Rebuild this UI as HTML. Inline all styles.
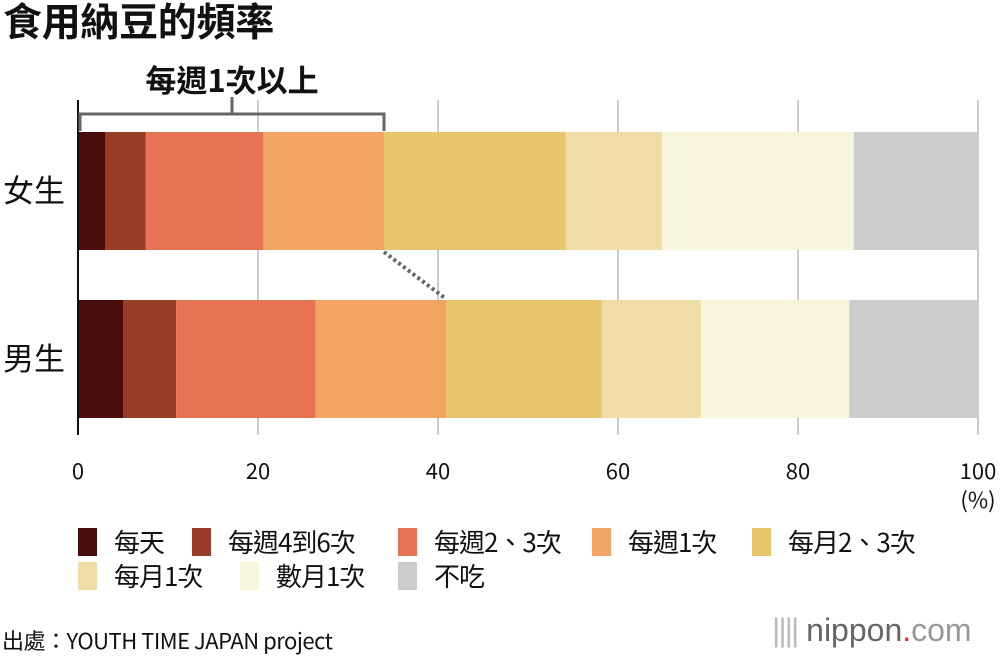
<!DOCTYPE html>
<html><head><meta charset="utf-8"><style>
body{margin:0;background:#fff;font-family:"Noto Sans CJK TC",sans-serif;}
#wrap{position:relative;width:1000px;height:660px;overflow:hidden;}
.t{position:absolute;white-space:nowrap;color:#111;}
</style></head><body>
<div id="wrap">
<div class="t" style="left:3px;top:-8px;font-size:39px;font-weight:bold;letter-spacing:-0.3px;">食用納豆的頻率</div>
<svg id="chart" width="1000" height="660" style="position:absolute;left:0;top:0;font-family:'Noto Sans CJK TC',sans-serif"></svg>
<div class="t" style="left:2px;top:624px;font-size:22px;letter-spacing:-0.5px;">出處：YOUTH TIME JAPAN project</div>
<div class="t" style="left:772px;top:612px;font-size:32px;color:#666;font-family:'Liberation Sans',sans-serif"><span style="color:#bbb;letter-spacing:-2px">||||</span> nippon<span style="color:#e0242a">.</span><span style="color:#999">com</span></div>
</div>
<script>
const categories=["女生","男生"];
const seriesNames=["每天","每週4到6次","每週2、3次","每週1次","每月2、3次","每月1次","數月1次","不吃"];
const female=[3.0,4.5,13.1,13.4,20.2,10.7,21.3,13.8];
const male=[5.0,5.9,15.5,14.5,17.3,11.0,16.5,14.3];
const ticks=[0,20,40,60,80,100];
const colors=["#4a0b0b","#973d27","#e77254","#f2a463","#e8c46b","#f0dca6","#f8f5dd","#cccccc"];
const svg=document.getElementById('chart');
const NS="http://www.w3.org/2000/svg";
const x=v=>78+v*9;
function mk(tag,attrs){const e=document.createElementNS(NS,tag);for(const k in attrs)e.setAttribute(k,attrs[k]);svg.appendChild(e);return e;}
ticks.forEach(t=>{
 const g=mk('line',{x1:x(t),x2:x(t),y1:100,y2:435,stroke:t===0?'#111':'#ccc','stroke-width':2});
 
 
 const tx=mk('text',{x:x(t),y:479,'text-anchor':'middle','font-size':22,fill:'#111'});
 tx.textContent=t;
 
 
});
const pc=mk('text',{x:978,y:508,'text-anchor':'middle','font-size':22,fill:'#111'});pc.textContent='(%)';


const data=[female,male];const tops=[132,300];const h=118;
data.forEach((arr,i)=>{
 let c=0;
 arr.forEach((v,j)=>{
  const r=mk('rect',{x:x(c),y:tops[i],width:x(c+v)-x(c),height:h,fill:colors[j]});
  
  
  c+=v;
 });
 const lb=mk('text',{x:3,y:tops[i]+h/2+11,'font-size':31,fill:'#111'});
 lb.textContent=categories[i];
 
 
});
mk('line',{x1:78,x2:78,y1:100,y2:435,stroke:'#111','stroke-width':2});
const fw=female.slice(0,4).reduce((a,b)=>a+b,0), mw=male.slice(0,4).reduce((a,b)=>a+b,0);
const br=mk('path',{d:`M80 131 V114 H${x(fw)} V131 M${(80+x(fw))/2} 114 V97`,stroke:'#666','stroke-width':3,fill:'none'});


const bt=mk('text',{x:(80+x(fw))/2,y:92,'text-anchor':'middle','font-size':31,'font-weight':'bold',fill:'#111'});bt.textContent='每週1次以上';


const dl=mk('line',{x1:x(fw),y1:252,x2:x(mw),y2:299,stroke:'#666','stroke-width':4,'stroke-dasharray':'3 3'});


const lx=[78,192,398,592,752,78,240,398];const ly=[528,528,528,528,528,562,562,562];
seriesNames.forEach((n,i)=>{
 const r=mk('rect',{x:lx[i],y:ly[i],width:19,height:28,fill:colors[i]});
 
 
 const t=mk('text',{x:lx[i]+36,y:ly[i]+24,'font-size':26,fill:'#111','letter-spacing':-1});t.textContent=n;
 
 
});
</script>
</body></html>
